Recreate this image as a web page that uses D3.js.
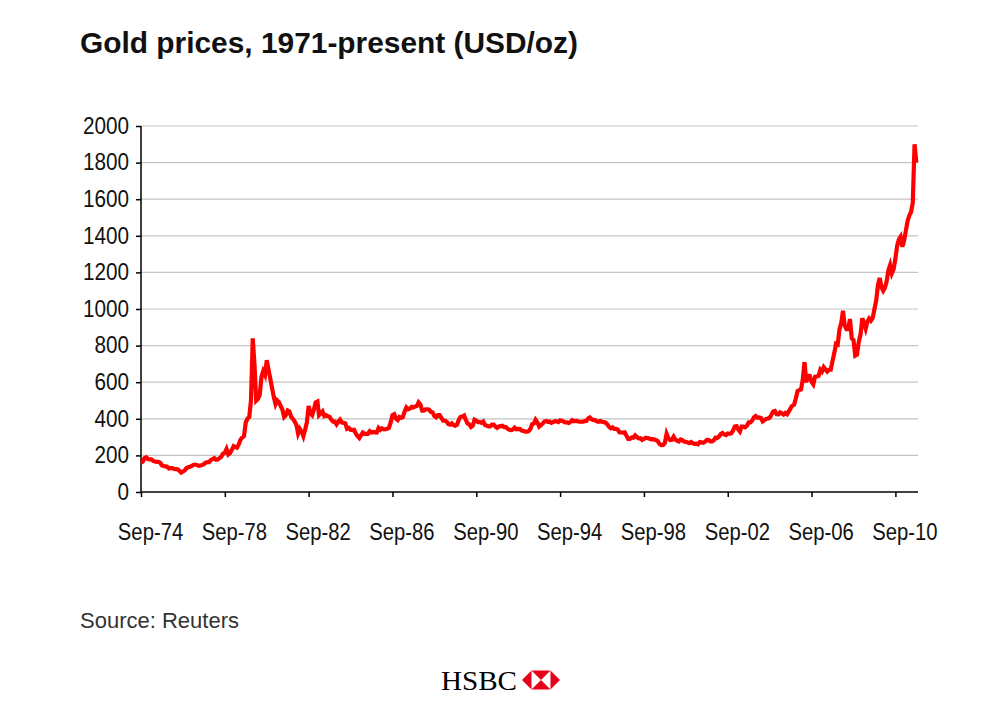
<!DOCTYPE html>
<html><head><meta charset="utf-8">
<script src="https://cdn.jsdelivr.net/npm/d3@7/dist/d3.min.js"></script>
<style>body{margin:0;background:#fff}svg{display:block}</style>
</head><body>
<svg id="chart" width="1002" height="715"></svg>
<script>
const titleText = "Gold prices, 1971-present (USD/oz)";
const sourceText = "Source: Reuters";
const brandText = "HSBC";
const firstMonth = "1974-09-01";
const lastMonth = "2011-09-01";
const yTickValues = [0, 200, 400, 600, 800, 1000, 1200, 1400, 1600, 1800, 2000];
const xTickDates = ["1974-09-01","1978-09-01","1982-09-01","1986-09-01","1990-09-01","1994-09-01","1998-09-01","2002-09-01","2006-09-01","2010-09-01"];
const xTickLabels = ["Sep-74","Sep-78","Sep-82","Sep-86","Sep-90","Sep-94","Sep-98","Sep-02","Sep-06","Sep-10"];
// monthly gold price, USD/oz, Sep 1974 .. Sep 2011
const prices = [
  160,165,185,190,                                   // 1974 Sep-Dec
  180,178,178,170,167,165,165,160,145,142,140,138,   // 1975
  128,130,130,126,125,124,116,106,112,118,130,135,   // 1976
  138,142,148,150,148,143,145,147,152,160,163,163,   // 1977
  175,180,185,176,178,185,192,210,215,235,205,212,   // 1978
  230,250,245,242,260,285,298,305,380,400,410,500,   // 1979
  840,690,500,510,530,630,660,640,720,670,620,570,   // 1980
  520,480,500,490,470,450,410,420,445,440,410,400,   // 1981
  385,365,320,345,330,305,340,380,470,430,420,450,   // 1982
  490,495,420,430,440,415,420,415,410,395,385,385,   // 1983
  370,385,395,380,378,375,345,350,340,338,340,320,   // 1984
  305,295,310,325,318,318,318,332,325,328,326,325,   // 1985
  350,340,348,342,343,345,350,380,420,425,400,393,   // 1986
  410,405,410,440,462,452,455,465,462,468,470,490,   // 1987
  478,445,445,452,452,450,438,435,415,408,420,420,   // 1988
  405,390,390,385,372,368,375,365,362,368,395,410,   // 1989
  412,418,395,375,370,355,362,395,390,382,382,378,   // 1990
  385,365,363,358,358,368,368,357,350,358,360,362,   // 1991
  355,355,345,340,338,342,352,343,345,344,336,334,   // 1992
  330,330,332,345,370,375,395,380,357,365,374,385,   // 1993
  388,383,385,378,382,387,386,382,392,390,385,380,   // 1994
  380,377,383,392,386,388,387,384,384,384,387,388,   // 1995
  402,408,398,394,393,386,384,388,384,382,379,370,   // 1996
  356,348,353,345,345,342,326,325,324,326,307,290,   // 1997
  290,298,297,309,300,293,294,285,290,297,295,292,   // 1998
  288,289,287,283,278,262,256,257,268,318,294,284,   // 1999
  285,302,287,281,276,287,283,276,274,271,267,273,   // 2000
  266,263,264,261,273,271,269,274,285,284,277,277,   // 2001
  283,297,295,303,316,322,315,311,320,318,320,335,   // 2002
  358,360,342,330,357,357,353,362,380,380,390,408,   // 2003
  415,406,408,405,386,393,399,402,406,422,440,443,   // 2004
  425,424,435,430,423,432,425,440,458,472,478,512,   // 2005
  552,557,560,615,710,600,635,634,602,588,630,632,   // 2006
  635,668,658,682,670,658,668,668,715,758,810,806,   // 2007
  890,925,990,910,890,890,945,840,830,745,750,820,   // 2008
  860,950,925,892,930,948,936,950,1000,1045,1130,1170, // 2009
  1120,1100,1115,1150,1210,1240,1195,1218,1275,1345,1380,1395, // 2010
  1340,1375,1425,1480,1510,1530,1580,1900,1800       // 2011 Jan-Sep
];

const parse = d3.timeParse("%Y-%m-%d");
const months = d3.timeMonth.range(parse(firstMonth), d3.timeMonth.offset(parse(lastMonth), 1));
const data = months.map((m, i) => ({date: m, value: prices[i]}));

const svg = d3.select("#chart");
const plotLeft = 141, plotRight = 918, plotTop = 126, plotBottom = 492;
const FONT = "'Liberation Sans', Arial, Helvetica, sans-serif";

const x = d3.scaleTime().domain([parse(firstMonth), parse("2011-09-30")]).range([plotLeft, plotRight]);
const y = d3.scaleLinear().domain([0, 2000]).range([plotBottom, plotTop]);

// narrow the glyphs a little, like the condensed face of the original
function condense(sel, factor) {
  sel.each(function() {
    const w = this.getComputedTextLength();
    d3.select(this).attr("textLength", w * factor).attr("lengthAdjust", "spacingAndGlyphs");
  });
}

// title
svg.append("text")
  .attr("x", 80).attr("y", 53)
  .attr("font-family", FONT)
  .attr("font-weight", "bold")
  .attr("font-size", 30)
  .attr("textLength", 498).attr("lengthAdjust", "spacingAndGlyphs")
  .attr("fill", "#111")
  .text(titleText);

// gridlines
svg.append("g").selectAll("line").data(yTickValues.filter(v => v > 0)).join("line")
  .attr("x1", plotLeft).attr("x2", plotRight)
  .attr("y1", d => y(d)).attr("y2", d => y(d))
  .attr("stroke", "#c4c4c4").attr("stroke-width", 1.2);

// y axis
const yAxis = svg.append("g").attr("transform", `translate(${plotLeft},0)`)
  .call(d3.axisLeft(y).tickValues(yTickValues).tickSize(5).tickPadding(7).tickFormat(d3.format("d")));
yAxis.select(".domain").attr("stroke", "#000").attr("stroke-width", 1.5).attr("d", `M0,${plotTop}V${plotBottom}`);
yAxis.selectAll(".tick line").attr("stroke", "#000").attr("stroke-width", 1.5);
yAxis.selectAll(".tick text")
  .attr("font-family", FONT)
  .attr("font-size", 23).attr("fill", "#111")
  .call(condense, 0.9);

// x axis
const xAxis = svg.append("g").attr("transform", `translate(0,${plotBottom})`)
  .call(d3.axisBottom(x).tickValues(xTickDates.map(parse)).tickSize(5).tickPadding(0)
    .tickFormat((d, i) => xTickLabels[i]));
xAxis.select(".domain").attr("stroke", "#000").attr("stroke-width", 1.5).attr("d", `M${plotLeft},0H${plotRight}`);
xAxis.selectAll(".tick line").attr("stroke", "#000").attr("stroke-width", 1.5);
xAxis.selectAll(".tick text")
  .attr("font-family", FONT)
  .attr("font-size", 23).attr("fill", "#111")
  .attr("dy", null).attr("y", 48).attr("x", 9)
  .call(condense, 0.88);

// line
const line = d3.line().x(d => x(d.date)).y(d => y(d.value));
svg.append("path").datum(data)
  .attr("d", line)
  .attr("fill", "none")
  .attr("stroke", "#ff0000")
  .attr("stroke-width", 4.2)
  .attr("stroke-linejoin", "miter");

// source
svg.append("text")
  .attr("x", 80).attr("y", 628)
  .attr("font-family", FONT)
  .attr("font-size", 22).attr("fill", "#333")
  .text(sourceText);

// HSBC brand
svg.append("text")
  .attr("x", 441).attr("y", 690)
  .attr("font-family", "'Liberation Serif', 'Times New Roman', serif")
  .attr("font-size", 28).attr("fill", "#000")
  .attr("textLength", 76).attr("lengthAdjust", "spacingAndGlyphs")
  .text(brandText);

const cx = 541, cy = 680, s = 19;
const logo = svg.append("g");
const tri = [
  {pts: [[cx - s, cy], [cx - s/2, cy - s/2], [cx - s/2, cy + s/2]], fill: "#e8001c"},
  {pts: [[cx + s, cy], [cx + s/2, cy - s/2], [cx + s/2, cy + s/2]], fill: "#e8001c"},
  {pts: [[cx - s/2, cy - s/2], [cx + s/2, cy - s/2], [cx, cy]], fill: "#e8001c"},
  {pts: [[cx - s/2, cy + s/2], [cx + s/2, cy + s/2], [cx, cy]], fill: "#e8001c"}
];
logo.selectAll("path").data(tri).join("path")
  .attr("d", d => "M" + d.pts.map(p => p.join(",")).join("L") + "Z")
  .attr("fill", d => d.fill);
</script>
</body></html>
